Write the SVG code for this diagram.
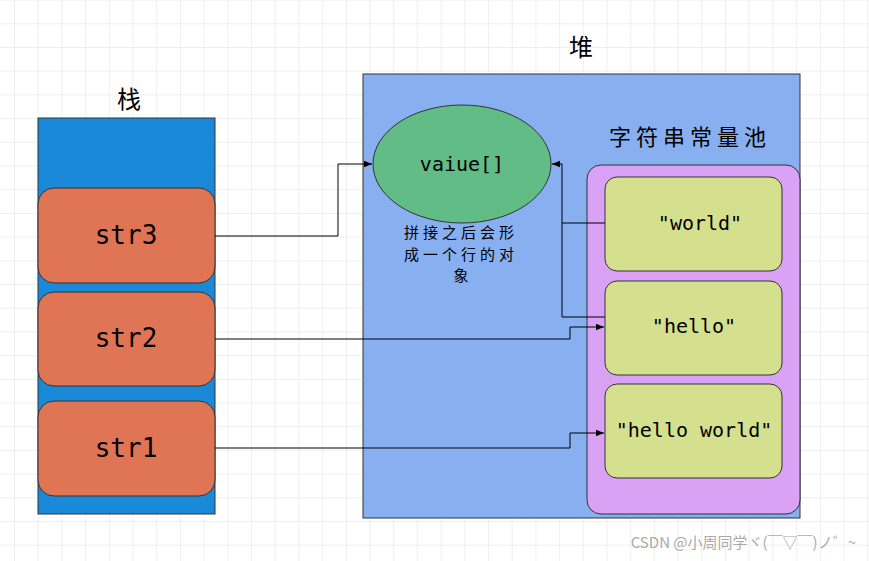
<svg xmlns="http://www.w3.org/2000/svg" width="869" height="561" viewBox="0 0 869 561">
<defs>
<pattern id="grid" x="14" y="-0.4" width="23.7" height="23.7" patternUnits="userSpaceOnUse">
<path d="M0 0V23.7M0 0H23.7" fill="none" stroke="#e0e0e0" stroke-width="1"/>
</pattern>
<marker id="arr" viewBox="0 0 10 10" refX="10" refY="5" markerWidth="8" markerHeight="8" orient="auto" markerUnits="userSpaceOnUse">
<path d="M0 1L10 5L0 9Z" fill="#000"/>
</marker>
</defs>
<style>
.var{fill:#e07555;stroke:#333;stroke-width:1}
.str{fill:#d4e08e;stroke:#333;stroke-width:1}
.big{font-family:"DejaVu Sans Mono","Liberation Mono",monospace;font-size:26px;fill:#000;text-anchor:middle}
.mid{font-family:"DejaVu Sans Mono","Liberation Mono",monospace;font-size:20px;fill:#000;text-anchor:middle}
.cjk{font-family:"Noto Sans CJK SC",serif;fill:#000;text-anchor:middle}
.con{fill:none;stroke:#000;stroke-width:1}
</style>
<rect width="869" height="561" fill="#fff"/>
<rect width="869" height="561" fill="url(#grid)"/>
<g id="stack">
<rect x="38" y="118" width="177" height="396" fill="#1a8ad8" stroke="#333"/>
<text class="cjk" x="129" y="108" font-size="24">栈</text>
</g>
<g id="heap">
<rect x="363" y="74" width="437" height="444" fill="#88aff0" stroke="#333"/>
<text class="cjk" x="581" y="56" font-size="24">堆</text>
</g>
<g id="pool">
<rect x="587" y="165" width="213" height="349" rx="14" fill="#d9a2f5" stroke="#333"/>
<text class="cjk" x="690" y="145" font-size="22" letter-spacing="5">字符串常量池</text>
</g>
<g id="str3"><rect class="var" x="38" y="188" width="177" height="95" rx="16"/><text class="big" x="126" y="244">str3</text></g>
<g id="str2"><rect class="var" x="38" y="292" width="177" height="94" rx="16"/><text class="big" x="126" y="347">str2</text></g>
<g id="str1"><rect class="var" x="38" y="401" width="177" height="95" rx="16"/><text class="big" x="126" y="457">str1</text></g>
<g id="value">
<ellipse cx="462" cy="164" rx="89" ry="59" fill="#61bd85" stroke="#333"/>
<text class="mid" x="462" y="171">vaiue[]</text>
<text class="cjk" x="461" y="238" font-size="15" letter-spacing="4">拼接之后会形</text>
<text class="cjk" x="461" y="260" font-size="15" letter-spacing="4">成一个行的对</text>
<text class="cjk" x="461" y="281" font-size="15">象</text>
</g>
<g id="world"><rect class="str" x="605" y="177" width="177" height="94" rx="12"/><text class="mid" x="700" y="230">"world"</text></g>
<g id="hello"><rect class="str" x="605" y="281" width="177" height="94" rx="12"/><text class="mid" x="694" y="333">"hello"</text></g>
<g id="helloworld"><rect class="str" x="605" y="384" width="177" height="94" rx="12"/><text class="mid" x="694" y="437">"hello world"</text></g>
<g id="connectors">
<path class="con" d="M215 236H338V164H372" marker-end="url(#arr)"/>
<path class="con" d="M215 339H570V327H604" marker-end="url(#arr)"/>
<path class="con" d="M215 448H570V433H604" marker-end="url(#arr)"/>
<path class="con" d="M605 223H562V164H552" marker-end="url(#arr)"/>
<path class="con" d="M605 317H562V223"/>
</g>
<text x="856" y="548" font-family="'Noto Sans CJK SC',sans-serif" font-size="15" fill="#aaa" text-anchor="end">CSDN @小周同学ヾ(￣▽￣)ノ゛~</text>
</svg>
